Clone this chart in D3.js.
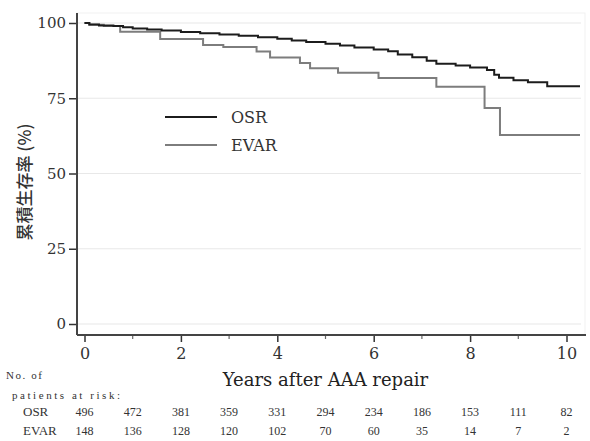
<!DOCTYPE html>
<html><head><meta charset="utf-8">
<script src="https://cdn.jsdelivr.net/npm/d3@7"></script>
<style>body{margin:0;background:#fff}svg{display:block}</style>
</head><body>
<svg id="c" width="590" height="441"></svg>
<script>
// ---- data ----
const osrTimes = [0, 0.1, 0.3, 0.6, 0.8, 1.0, 1.3, 1.6, 2.0, 2.4, 2.8, 3.2, 3.6, 4.0, 4.3, 4.6, 5.0, 5.3, 5.6, 6.0, 6.3, 6.5, 6.8, 7.1, 7.3, 7.7, 8.0, 8.35, 8.5, 8.6, 8.9, 9.2, 9.6, 10.28];
const osrSurv  = [100, 99.5, 99.2, 99.0, 98.6, 98.2, 97.8, 97.5, 97.0, 96.6, 96.2, 95.8, 95.3, 94.8, 94.2, 93.7, 93.1, 92.5, 91.9, 91.2, 90.6, 89.5, 88.6, 87.5, 86.5, 85.9, 85.2, 84.4, 82.8, 81.8, 81.0, 80.3, 79.0, 79.0];
const evarTimes = [0, 0.1, 0.4, 0.74, 1.57, 2.46, 2.88, 3.57, 3.85, 4.47, 4.68, 5.26, 6.1, 7.3, 8.3, 8.62, 10.28];
const evarSurv  = [100, 99.4, 99.0, 97.1, 94.7, 92.7, 92.0, 90.5, 88.5, 86.7, 85.0, 83.5, 81.7, 78.8, 71.8, 62.8, 62.8];
const seriesNames = ["OSR", "EVAR"];
const riskYears = [0,1,2,3,4,5,6,7,8,9,10];
const riskOSR  = [496, 472, 381, 359, 331, 294, 234, 186, 153, 111, 82];
const riskEVAR = [148, 136, 128, 120, 102, 70, 60, 35, 14, 7, 2];
const xTicks = [0, 2, 4, 6, 8, 10];
const xMinorTicks = [1, 3, 5, 7, 9];
const yTicks = [0, 25, 50, 75, 100];
const yLabel = "累積生存率 (%)";
const xLabel = "Years after AAA repair";
const riskTitle1 = "No. of";
const riskTitle2 = "patients at risk:";

// ---- layout ----
const svg = d3.select("#c");
const x = d3.scaleLinear().domain([0, 10]).range([84.5, 566.5]);
const y = d3.scaleLinear().domain([0, 100]).range([324, 23]);
const axisX = 77, axisY = 335;
const serif = "'DejaVu Serif', serif";
const tSerif = "'Liberation Serif', serif";
const colors = {OSR: "#1c1c1c", EVAR: "#7d7d7d"};

// faint plot-region outline and gridlines
svg.append("rect").attr("x", axisX).attr("y", 13).attr("width", 585 - axisX).attr("height", axisY - 13)
  .attr("fill", "none").attr("stroke", "#f1f1f1").attr("stroke-width", 1);
svg.append("g").selectAll("line").data(yTicks).join("line")
  .attr("x1", axisX).attr("x2", 581).attr("y1", d => y(d)).attr("y2", d => y(d))
  .attr("stroke", "#e8e8e8").attr("stroke-width", 1.2);

// curves
const line = d3.line().curve(d3.curveStepAfter).x(d => x(d[0])).y(d => y(d[1]));
const osrData = osrTimes.map((t, i) => [t, osrSurv[i]]);
const evarData = evarTimes.map((t, i) => [t, evarSurv[i]]);
svg.append("path").datum(evarData).attr("d", line).attr("fill", "none")
  .attr("stroke", colors.EVAR).attr("stroke-width", 2);
svg.append("path").datum(osrData).attr("d", line).attr("fill", "none")
  .attr("stroke", colors.OSR).attr("stroke-width", 2);

// y axis
const gy = svg.append("g").attr("transform", `translate(${axisX},0)`)
  .call(d3.axisLeft(y).tickValues(yTicks).tickSize(8).tickPadding(3));
gy.select(".domain").remove();
gy.selectAll(".tick line").attr("stroke", "#333").attr("stroke-width", 1.5);
gy.selectAll(".tick text").attr("font-family", serif).attr("font-size", 15).attr("fill", "#333");
svg.append("line").attr("x1", axisX).attr("x2", axisX).attr("y1", 13).attr("y2", axisY)
  .attr("stroke", "#444").attr("stroke-width", 2);

// x axis
const gx = svg.append("g").attr("transform", `translate(0,${axisY})`)
  .call(d3.axisBottom(x).tickValues(xTicks).tickSize(7).tickPadding(6).tickFormat(d3.format("d")));
gx.select(".domain").remove();
gx.selectAll(".tick line").attr("stroke", "#333").attr("stroke-width", 1.5);
gx.selectAll(".tick text").attr("font-family", serif).attr("font-size", 16).attr("fill", "#333");
svg.append("g").selectAll("line").data(xMinorTicks).join("line")
  .attr("x1", d => x(d)).attr("x2", d => x(d)).attr("y1", axisY).attr("y2", axisY + 4)
  .attr("stroke", "#666").attr("stroke-width", 1.2);
svg.append("line").attr("x1", axisX).attr("x2", 586).attr("y1", axisY).attr("y2", axisY)
  .attr("stroke", "#444").attr("stroke-width", 2);

// axis titles
svg.append("text").attr("x", 325.5).attr("y", 386).attr("text-anchor", "middle")
  .attr("font-family", serif).attr("font-size", 18).attr("fill", "#222").text(xLabel);
svg.append("text").attr("transform", "translate(31,182) rotate(-90)").attr("text-anchor", "middle")
  .attr("font-family", "'Noto Sans CJK JP', sans-serif").attr("font-size", 17).attr("font-weight", 500)
  .attr("fill", "#333").text(yLabel);

// legend
const leg = svg.append("g");
seriesNames.forEach((n, i) => {
  const ly = 117 + i * 28;
  leg.append("line").attr("x1", 165).attr("x2", 217).attr("y1", ly).attr("y2", ly)
    .attr("stroke", colors[n]).attr("stroke-width", 2.2);
  leg.append("text").attr("x", 231).attr("y", ly + 6).attr("font-family", serif)
    .attr("font-size", 16).attr("fill", "#333").text(n);
});

// number at risk table
svg.append("text").attr("x", 6).attr("y", 379).attr("font-family", tSerif).attr("font-size", 11)
  .attr("fill", "#333").attr("textLength", 36).text(riskTitle1);
svg.append("text").attr("x", 12).attr("y", 399).attr("font-family", tSerif).attr("font-size", 11)
  .attr("fill", "#333").attr("textLength", 108).text(riskTitle2);
const rows = [["OSR", riskOSR, 416], ["EVAR", riskEVAR, 435]];
rows.forEach(([name, vals, ry]) => {
  svg.append("text").attr("x", 23).attr("y", ry).attr("font-family", tSerif).attr("font-size", 13)
    .attr("fill", "#333").text(name);
  svg.append("g").selectAll("text").data(vals).join("text")
    .attr("x", (d, i) => x(riskYears[i])).attr("y", ry).attr("text-anchor", "middle")
    .attr("font-family", tSerif).attr("font-size", 12).attr("fill", "#333").text(d => d);
});
</script>
</body></html>
